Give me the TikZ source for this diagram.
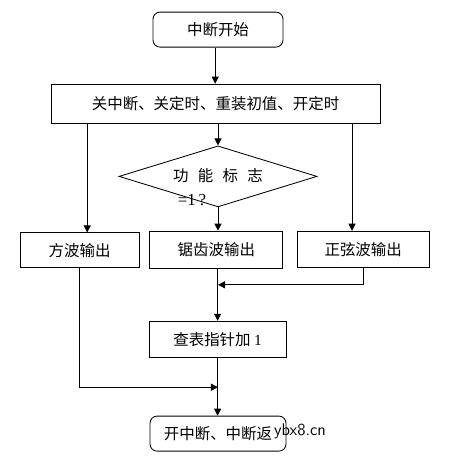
\documentclass[tikz,border=0pt]{standalone}
\usepackage{fontspec}
\setmainfont{Liberation Serif}
\newfontfamily\cjk{Noto Sans CJK SC}
\usetikzlibrary{arrows.meta,shapes.geometric}

\tikzset{
  box/.style={draw, line width=0.6pt, font=\cjk\fontsize{11}{13}\selectfont, inner sep=0pt},
  rbox/.style={box, rounded corners=5pt},
  arr/.style={-{Triangle[length=5pt,width=5pt]}, line width=0.6pt},
  ln/.style={line width=0.6pt}
}

\begin{document}
\begin{tikzpicture}[x=1cm,y=1cm]

\useasboundingbox (0,0) rectangle (11.35,-11.525);

% Start and set-up
\node[rbox, minimum width=3.25cm, minimum height=0.875cm] (start) at (5.45,-0.74) {中断开始};
\node[box, minimum width=8.225cm, minimum height=0.975cm] (init) at (5.39,-2.59) {关中断、关定时、重装初值、开定时};

% Decision
\node[draw, ln, diamond, inner sep=0pt, minimum width=4.95cm, minimum height=1.525cm] (flag) at (5.45,-4.41) {};
\node[font=\cjk\fontsize{11}{13}\selectfont] (flagtxt) at (5.45,-4.38) {功\hspace{0.6em}能\hspace{0.6em}标\hspace{0.6em}志};
\node[font=\fontsize{12}{14}\selectfont, inner sep=0pt] (flageq) at (4.8,-4.99) {=1\,?};

% Wave outputs
\node[box, minimum width=2.975cm, minimum height=0.875cm] (square) at (1.99,-6.26) {方波输出};
\node[box, minimum width=3.325cm, minimum height=0.925cm] (saw) at (5.41,-6.24) {锯齿波输出};
\node[box, minimum width=3.3cm, minimum height=0.9cm] (sine) at (9.08,-6.23) {正弦波输出};

% Table pointer and return
\node[box, minimum width=3.425cm, minimum height=0.9cm] (table) at (5.44,-8.48) {查表指针加 {\rmfamily 1}};
\node[rbox, minimum width=3.4cm, minimum height=0.875cm] (finish) at (5.45,-10.84) {开中断、中断返};
\node[font=\sffamily\fontsize{12}{14}\selectfont, inner sep=1pt] (mark) at (7.5,-10.78) {ybx8.cn};

% Joins
\coordinate (join1) at (5.45,-7.12);
\coordinate (join2) at (5.45,-9.68);

% Arrows
\draw[arr] (start.south -| 5.38,0) -- (5.38,0 |- init.north);
\draw[arr] (init.south -| flag.north) -- (flag.north);
\draw[arr] ([xshift=0.19cm]square.north |- init.south) -- ([xshift=0.19cm]square.north);
\draw[arr] ([xshift=-0.28cm]sine.north |- init.south) -- ([xshift=-0.28cm]sine.north);
\draw[arr] (flag.south) -- (flag.south |- saw.north);
\draw[arr] (sine.south) |- (join1);
\draw[arr] (saw.south -| table.north) -- (table.north);
\draw[arr] (square.south) |- (join2);
\draw[arr] (table.south) -- (table.south |- finish.north);

\end{tikzpicture}
\end{document}
